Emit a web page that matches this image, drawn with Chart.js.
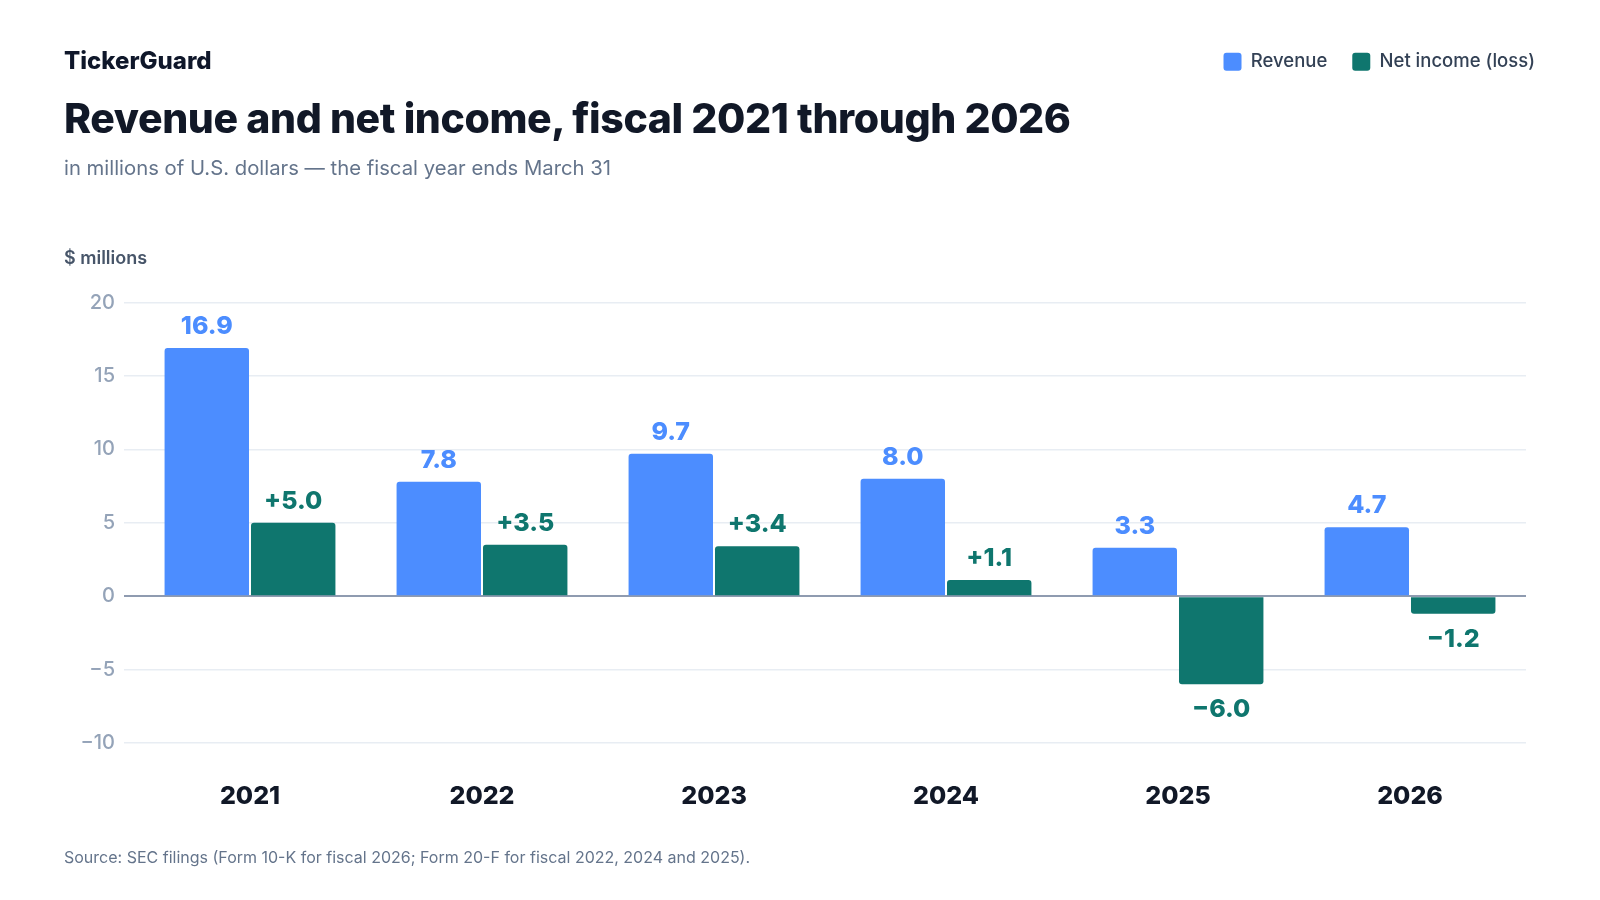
<!DOCTYPE html>
<html>
<head>
<meta charset="utf-8">
<script src="https://cdn.jsdelivr.net/npm/chart.js@4.4.1/dist/chart.umd.min.js"></script>
<style>
    html, body { margin: 0; padding: 0; background: #ffffff; }
    body { width: 1600px; height: 900px; position: relative; overflow: hidden; font-family: Inter, "Noto Sans", sans-serif; }
    #chart-wrap { position: absolute; left: 0; top: 0; width: 1600px; height: 900px; }
    .brand { position: absolute; left: 64px; top: 46px; font-size: 24px; line-height: 30px; font-weight: 800; color: #0f172a; letter-spacing: 0px; }
    .title { position: absolute; left: 64px; top: 94px; font-size: 41px; line-height: 48px; font-weight: 800; color: #111827; letter-spacing: -0.4px; }
    .subtitle { position: absolute; left: 64px; top: 156px; font-size: 20.3px; line-height: 24px; color: #64748b; }
    .source { position: absolute; left: 64px; top: 847px; font-size: 16px; line-height: 20px; color: #64748b; }
</style>
</head>
<body>
<div id="chart-wrap"><canvas id="chart"></canvas></div>
<div class="brand">TickerGuard</div>
<div class="title">Revenue and net income, fiscal 2021 through 2026</div>
<div class="subtitle">in millions of U.S. dollars — the fiscal year ends March 31</div>
<div class="source">Source: SEC filings (Form 10-K for fiscal 2026; Form 20-F for fiscal 2022, 2024 and 2025).</div>
<script>
    // Fiscal years and values in $ millions
    const years = ['2021', '2022', '2023', '2024', '2025', '2026'];
    const revenue = [16.9, 7.8, 9.7, 8.0, 3.3, 4.7];
    const netIncome = [5.0, 3.5, 3.4, 1.1, -6.0, -1.2];
    const yMin = -10;
    const yMax = 20;
    const yStep = 5;

    const BLUE = '#4c8dff';
    const TEAL = '#0f766e';
    const MINUS = '\u2212';

    function fmtRevenue(v) {
        return v.toFixed(1);
    }

    function fmtNet(v) {
        return (v < 0 ? MINUS : '+') + Math.abs(v).toFixed(1);
    }

    // value labels above (or below) each bar
    const valueLabels = {
        id: 'valueLabels',
        afterDatasetsDraw(chart) {
            const ctx = chart.ctx;
            chart.data.datasets.forEach((ds, i) => {
                const meta = chart.getDatasetMeta(i);
                meta.data.forEach((bar, j) => {
                    const v = ds.data[j];
                    ctx.save();
                    ctx.font = '800 25px Inter';
                    ctx.fillStyle = ds.labelColor;
                    ctx.textAlign = 'center';
                    ctx.textBaseline = 'alphabetic';
                    if (v >= 0) {
                        ctx.fillText(ds.format(v), bar.x, bar.y - 14);
                    } else {
                        ctx.fillText(ds.format(v), bar.x, bar.y + 33);
                    }
                    ctx.restore();
                });
            });
        }
    };

    const ctx = document.getElementById('chart').getContext('2d');
    new Chart(ctx, {
        type: 'bar',
        data: {
            labels: years,
            datasets: [{
                label: 'Revenue',
                data: revenue,
                backgroundColor: BLUE,
                borderWidth: 0,
                borderRadius: 3,
                labelColor: BLUE,
                format: fmtRevenue
            }, {
                label: 'Net income (loss)',
                data: netIncome,
                backgroundColor: TEAL,
                borderWidth: 0,
                borderRadius: 3,
                labelColor: TEAL,
                format: fmtNet
            }]
        },
        options: {
            responsive: true,
            maintainAspectRatio: false,
            animation: false,
            categoryPercentage: 0.745,
            barPercentage: 0.977,
            layout: {
                padding: { top: 27.5, left: 64, right: 40, bottom: 51 }
            },
            font: { family: 'Inter' },
            plugins: {
                tooltip: { enabled: false },
                legend: {
                    position: 'top',
                    align: 'end',
                    labels: {
                        boxWidth: 18,
                        boxHeight: 18,
                        padding: 25,
                        color: '#334155',
                        useBorderRadius: true,
                        borderRadius: 3,
                        font: { family: 'Inter', size: 18.5, weight: '500' }
                    }
                },
                title: {
                    display: true,
                    text: '$ millions',
                    align: 'start',
                    weight: 500,
                    color: '#475569',
                    font: { family: 'Inter', size: 18, weight: '600' },
                    padding: { top: 167, bottom: 33 }
                }
            },
            scales: {
                x: {
                    grid: { display: false, drawTicks: false },
                    border: { display: false },
                    ticks: {
                        padding: 38,
                        color: '#111827',
                        font: { family: 'Inter', size: 25, weight: '800' }
                    }
                },
                y: {
                    min: yMin,
                    max: yMax,
                    afterFit(scale) { scale.width = 70; },
                    border: { display: false },
                    grid: {
                        tickLength: 10,
                        color: c => (c.tick && c.tick.value === 0) ? '#8f9bb0' : '#e8edf3',
                        lineWidth: c => (c.tick && c.tick.value === 0) ? 2 : 1.5
                    },
                    ticks: {
                        stepSize: yStep,
                        padding: 9,
                        color: '#94a3b8',
                        font: { family: 'Inter', size: 20, weight: '500' },
                        callback: v => v < 0 ? MINUS + Math.abs(v) : String(v)
                    }
                },
                pad: {
                    position: 'right',
                    display: true,
                    afterFit(scale) { scale.width = 34; },
                    grid: { display: false, drawTicks: false },
                    border: { display: false },
                    ticks: { display: false }
                }
            }
        },
        plugins: [valueLabels]
    });
</script>
</body>
</html>
